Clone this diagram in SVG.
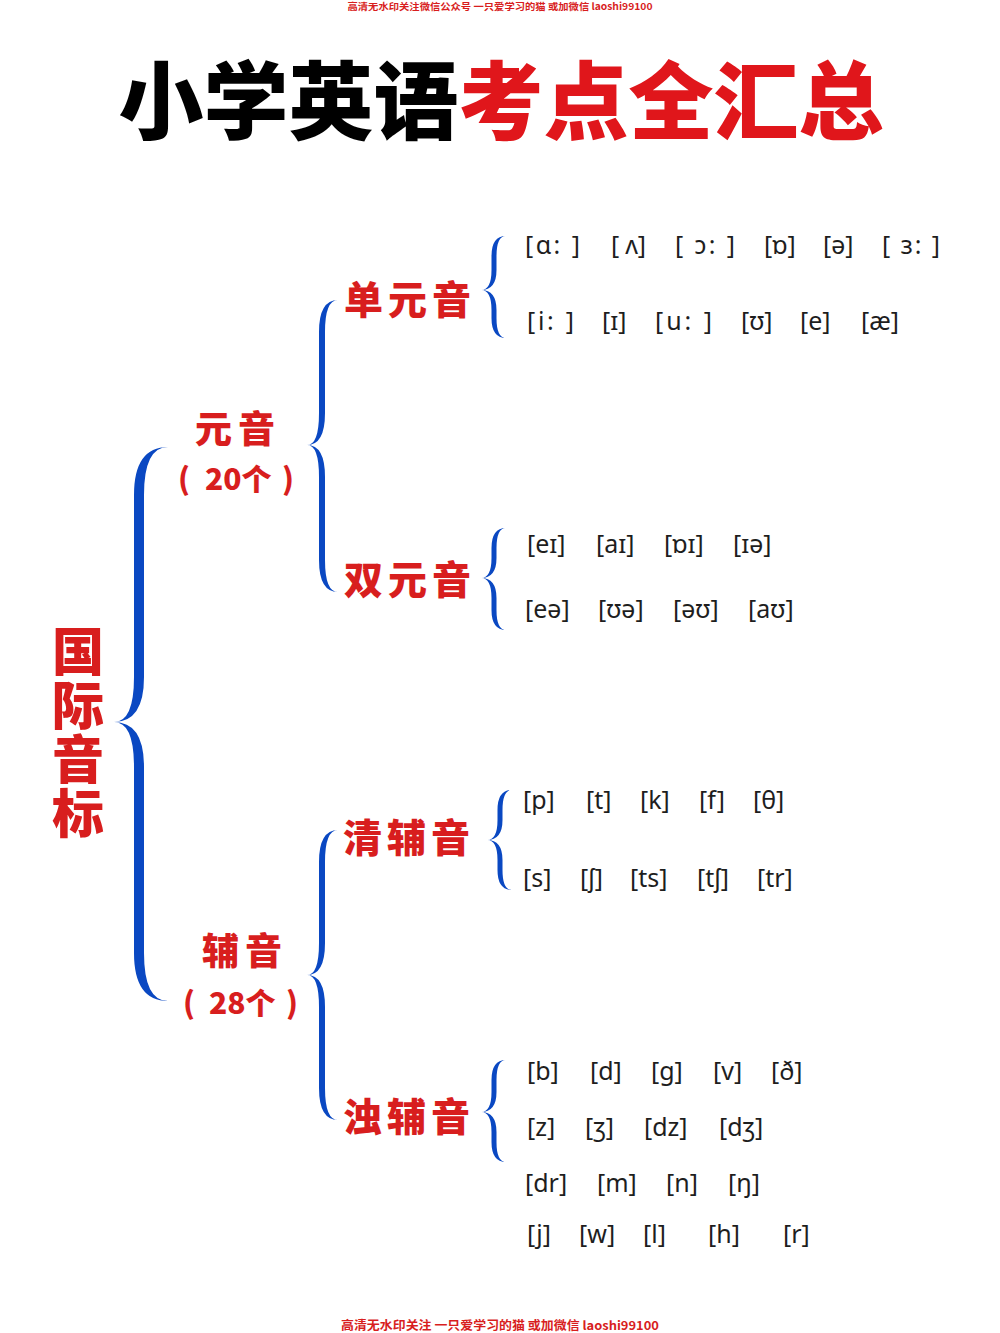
<svg xmlns="http://www.w3.org/2000/svg" width="1000" height="1333" viewBox="0 0 1000 1333">
<style>
.wm{font-family:"Noto Sans CJK SC","Noto Sans",sans-serif;font-weight:700;fill:#d81e1e}
.title{font-family:"Noto Sans CJK SC",sans-serif;font-weight:900;font-size:85px}
.cn{font-family:"Noto Sans CJK SC",sans-serif;font-weight:900;fill:#d81e1e}
.l1{font-size:52px;letter-spacing:2px;writing-mode:vertical-rl}
.l2{font-size:37px;letter-spacing:6px}
.cnt{font-size:30px}
.l3{font-size:39px;letter-spacing:5px}
.ipa{font-family:"Noto Sans","DejaVu Sans",sans-serif;font-size:25px;fill:#1e1e1e}
.brace{fill:#0a48c2}
</style>
<rect width="1000" height="1333" fill="#ffffff"/>
<text class="wm" x="500" y="10" font-size="9.5" text-anchor="middle" textLength="305" lengthAdjust="spacingAndGlyphs">高清无水印关注微信公众号 一只爱学习的猫 或加微信 laoshi99100</text>
<text class="wm" x="500" y="1330" font-size="12" text-anchor="middle" textLength="318" lengthAdjust="spacingAndGlyphs">高清无水印关注 一只爱学习的猫 或加微信 laoshi99100</text>
<g id="title">
<text class="title" x="501" y="133" text-anchor="middle"><tspan fill="#000000">小学英语</tspan><tspan fill="#e0161b">考点全汇总</tspan></text>
</g>
<g id="connectors">
<path class="brace" d="M168,447 Q134,447 134,495 L134,677 Q134,722 114,722 Q134,722 134,767 L134,953 Q134,1001 168,1001 Q144,1001 144,953 L144,767 Q144,722 114,722 Q144,722 144,677 L144,495 Q144,447 168,447 Z"/>
<path class="brace" d="M338,300 Q319,300 319,332 L319,413 Q319,445 307,445 Q319,445 319,477 L319,560 Q319,592 338,592 Q325,592 325,560 L325,477 Q325,445 307,445 Q325,445 325,413 L325,332 Q325,300 338,300 Z"/>
<path class="brace" d="M338,830 Q319,830 319,862 L319,943 Q319,975 307,975 Q319,975 319,1007 L319,1088 Q319,1120 338,1120 Q325,1120 325,1088 L325,1007 Q325,975 307,975 Q325,975 325,943 L325,862 Q325,830 338,830 Z"/>
<path class="brace" d="M506,236 Q491.5,236 491.5,256 L491.5,270 Q491.5,290 481,290 Q491.5,290 491.5,310 L491.5,318 Q491.5,338 506,338 Q496.5,338 496.5,318 L496.5,310 Q496.5,290 481,290 Q496.5,290 496.5,270 L496.5,256 Q496.5,236 506,236 Z"/>
<path class="brace" d="M506,528 Q491.5,528 491.5,548 L491.5,558 Q491.5,578 481,578 Q491.5,578 491.5,598 L491.5,610 Q491.5,630 506,630 Q496.5,630 496.5,610 L496.5,598 Q496.5,578 481,578 Q496.5,578 496.5,558 L496.5,548 Q496.5,528 506,528 Z"/>
<path class="brace" d="M512,790 Q497.5,790 497.5,810 L497.5,820 Q497.5,840 487,840 Q497.5,840 497.5,860 L497.5,870 Q497.5,890 512,890 Q502.5,890 502.5,870 L502.5,860 Q502.5,840 487,840 Q502.5,840 502.5,820 L502.5,810 Q502.5,790 512,790 Z"/>
<path class="brace" d="M506,1060 Q491.5,1060 491.5,1080 L491.5,1092 Q491.5,1112 481,1112 Q491.5,1112 491.5,1132 L491.5,1142 Q491.5,1162 506,1162 Q496.5,1162 496.5,1142 L496.5,1132 Q496.5,1112 481,1112 Q496.5,1112 496.5,1092 L496.5,1080 Q496.5,1060 506,1060 Z"/>
</g>
<g id="node-root">
<text class="cn l1" x="78" y="625">国际音标</text>
</g>
<g id="node-vowel">
<text class="cn l2" x="238" y="443" text-anchor="middle">元音</text>
<text class="cn cnt" y="490"><tspan x="178">(</tspan><tspan x="205">20个</tspan><tspan x="282">)</tspan></text>
</g>
<g id="node-consonant">
<text class="cn l2" x="245" y="965" text-anchor="middle">辅音</text>
<text class="cn cnt" y="1014"><tspan x="183">(</tspan><tspan x="209">28个</tspan><tspan x="286">)</tspan></text>
</g>
<g id="node-monophthong">
<text class="cn l3" x="344" y="314">单元音</text>
</g>
<g id="node-diphthong">
<text class="cn l3" x="344" y="594">双元音</text>
</g>
<g id="node-voiceless">
<text class="cn l3" x="343" y="852">清辅音</text>
</g>
<g id="node-voiced">
<text class="cn l3" x="343" y="1131">浊辅音</text>
</g>
<g id="ipa-monophthong">
<text class="ipa" x="525" y="254" textLength="55">[ɑ: ]</text>
<text class="ipa" x="611" y="254" textLength="35">[ ʌ]</text>
<text class="ipa" x="675" y="254" textLength="60">[ ɔ: ]</text>
<text class="ipa" x="764" y="254">[ɒ]</text>
<text class="ipa" x="823" y="254">[ə]</text>
<text class="ipa" x="882" y="254" textLength="58">[ ɜ: ]</text>
<text class="ipa" x="527" y="330" textLength="47">[i: ]</text>
<text class="ipa" x="602" y="330">[ɪ]</text>
<text class="ipa" x="655" y="330" textLength="57">[u: ]</text>
<text class="ipa" x="741" y="330">[ʊ]</text>
<text class="ipa" x="800" y="330">[e]</text>
<text class="ipa" x="861" y="330">[æ]</text>
</g>
<g id="ipa-diphthong">
<text class="ipa" y="553"><tspan x="527">[eɪ]</tspan><tspan x="596">[aɪ]</tspan><tspan x="664">[ɒɪ]</tspan><tspan x="733">[ɪə]</tspan></text>
<text class="ipa" y="618"><tspan x="525">[eə]</tspan><tspan x="598">[ʊə]</tspan><tspan x="673">[əʊ]</tspan><tspan x="748">[aʊ]</tspan></text>
</g>
<g id="ipa-voiceless">
<text class="ipa" y="809"><tspan x="523">[p]</tspan><tspan x="586">[t]</tspan><tspan x="640">[k]</tspan><tspan x="699">[f]</tspan><tspan x="753">[θ]</tspan></text>
<text class="ipa" y="887"><tspan x="523">[s]</tspan><tspan x="580">[ʃ]</tspan><tspan x="630">[ts]</tspan><tspan x="697">[tʃ]</tspan><tspan x="757">[tr]</tspan></text>
</g>
<g id="ipa-voiced">
<text class="ipa" y="1080"><tspan x="527">[b]</tspan><tspan x="590">[d]</tspan><tspan x="651">[g]</tspan><tspan x="713">[v]</tspan><tspan x="771">[ð]</tspan></text>
<text class="ipa" y="1136"><tspan x="527">[z]</tspan><tspan x="585">[ʒ]</tspan><tspan x="644">[dz]</tspan><tspan x="719">[dʒ]</tspan></text>
<text class="ipa" y="1192"><tspan x="525">[dr]</tspan><tspan x="597">[m]</tspan><tspan x="666">[n]</tspan><tspan x="728">[ŋ]</tspan></text>
<text class="ipa" y="1243"><tspan x="527">[j]</tspan><tspan x="579">[w]</tspan><tspan x="643">[l]</tspan><tspan x="708">[h]</tspan><tspan x="783">[r]</tspan></text>
</g>
</svg>
